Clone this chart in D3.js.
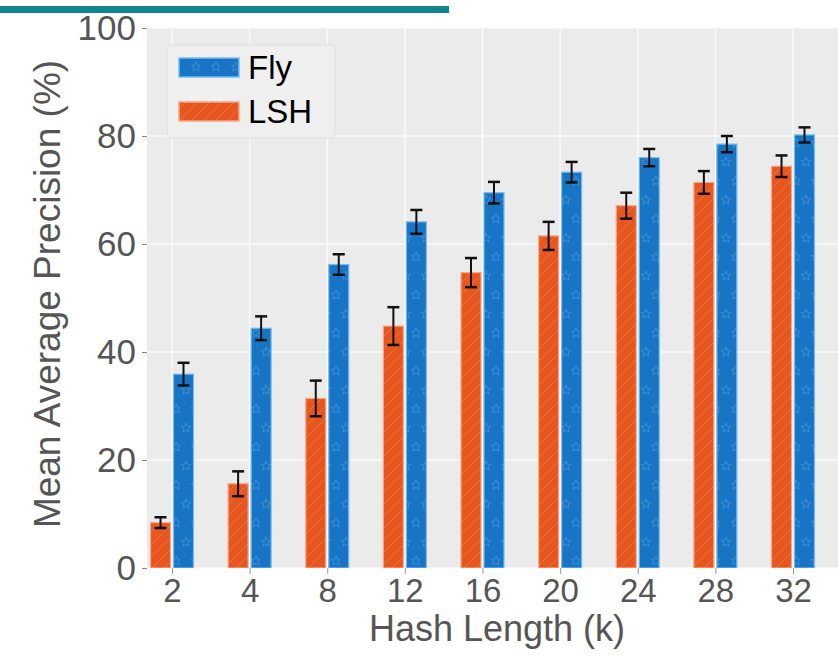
<!DOCTYPE html>
<html>
<head>
<meta charset="utf-8">
<script src="https://cdn.jsdelivr.net/npm/d3@7"></script>
<style>
  html, body { margin: 0; padding: 0; background: #fff; }
  svg { display: block; font-family: "Liberation Sans", Arial, sans-serif; }
</style>
</head>
<body>
<div id="chart"></div>
<script>
// Hash length k on the x axis
const hashLengths = ["2", "4", "8", "12", "16", "20", "24", "28", "32"];
const seriesNames = ["LSH", "Fly"];

// Mean average precision (%)
const lshValues = [8.4, 15.6, 31.4, 44.8, 54.7, 61.5, 67.1, 71.4, 74.4];
const lshErrors = [1.0, 2.3, 3.3, 3.5, 2.7, 2.6, 2.4, 2.1, 2.0];
const flyValues = [35.9, 44.4, 56.2, 64.1, 69.5, 73.3, 76.0, 78.5, 80.2];
const flyErrors = [2.1, 2.2, 1.9, 2.2, 2.0, 1.9, 1.6, 1.5, 1.4];

const yTicks = [0, 20, 40, 60, 80, 100];

const width = 838;
const height = 656;
const plot = { left: 147, top: 28, right: 860, bottom: 568 };

const svg = d3.select("#chart")
  .append("svg")
  .attr("width", width)
  .attr("height", height)
  .attr("viewBox", [0, 0, width, height]);

// teal strip at the top of the page crop
svg.append("rect")
  .attr("x", 0).attr("y", 6)
  .attr("width", 449).attr("height", 7)
  .attr("fill", "#10858a");

const defs = svg.append("defs");

// orange "/" hatch
const hatch = defs.append("pattern")
  .attr("id", "hatch-lsh")
  .attr("patternUnits", "userSpaceOnUse")
  .attr("width", 12).attr("height", 12);
hatch.append("rect").attr("width", 12).attr("height", 12).attr("fill", "#e8561f");
hatch.append("path")
  .attr("d", "M0,12L12,0M-3,3L3,-3M9,15L15,9")
  .attr("stroke", "#f39a72")
  .attr("stroke-opacity", 0.45)
  .attr("stroke-width", 1);

// blue star hatch
const starPath = (cx, cy, r) => {
  const pts = d3.range(10).map((i) => {
    const a = -Math.PI / 2 + (i * Math.PI) / 5;
    const rr = i % 2 === 0 ? r : r * 0.45;
    return [cx + rr * Math.cos(a), cy + rr * Math.sin(a)];
  });
  return "M" + pts.map((p) => p.join(",")).join("L") + "Z";
};
const stars = defs.append("pattern")
  .attr("id", "hatch-fly")
  .attr("patternUnits", "userSpaceOnUse")
  .attr("width", 20).attr("height", 38);
stars.append("rect").attr("width", 20).attr("height", 38).attr("fill", "#1874c4");
stars.append("path")
  .attr("d", starPath(6, 10, 5) + starPath(16, 29, 5))
  .attr("fill", "none")
  .attr("stroke", "#5aa6e6")
  .attr("stroke-opacity", 0.5)
  .attr("stroke-width", 1);

const clip = defs.append("clipPath").attr("id", "plot-clip");
clip.append("rect")
  .attr("x", plot.left).attr("y", plot.top - 10)
  .attr("width", plot.right - plot.left).attr("height", plot.bottom - plot.top + 10);

const x = d3.scalePoint().domain(hashLengths).range([172, 793]);
const xSub = d3.scaleBand().domain(seriesNames).range([-21.5, 21.5]).paddingInner(0.13);
const y = d3.scaleLinear().domain([0, 100]).range([plot.bottom, plot.top]);

// background
svg.append("rect")
  .attr("x", plot.left).attr("y", plot.top)
  .attr("width", plot.right - plot.left).attr("height", plot.bottom - plot.top)
  .attr("fill", "#ebebeb");

// grid
const grid = svg.append("g").attr("stroke", "#fafafa").attr("stroke-width", 1.5);
grid.selectAll(".gy").data(yTicks).join("line")
  .attr("x1", plot.left).attr("x2", plot.right)
  .attr("y1", (d) => y(d)).attr("y2", (d) => y(d));
grid.selectAll(".gx").data(hashLengths).join("line")
  .attr("x1", (d) => x(d)).attr("x2", (d) => x(d))
  .attr("y1", plot.top).attr("y2", plot.bottom);

const series = [
  { name: "LSH", values: lshValues, errors: lshErrors, fill: "url(#hatch-lsh)", edge: "#f6a883" },
  { name: "Fly", values: flyValues, errors: flyErrors, fill: "url(#hatch-fly)", edge: "#74bdf0" },
];

const bars = svg.append("g").attr("clip-path", "url(#plot-clip)");
series.forEach((s) => {
  const rows = hashLengths.map((k, i) => ({ k, v: s.values[i], e: s.errors[i] }));
  bars.selectAll(null).data(rows).join("rect")
    .attr("x", (d) => x(d.k) + xSub(s.name))
    .attr("y", (d) => y(d.v))
    .attr("width", xSub.bandwidth())
    .attr("height", (d) => y(0) - y(d.v))
    .attr("fill", s.fill)
    .attr("stroke", s.edge)
    .attr("stroke-width", 1.2);

  const err = bars.append("g").attr("stroke", "#111");
  const cx = (d) => x(d.k) + xSub(s.name) + xSub.bandwidth() / 2;
  err.selectAll(null).data(rows).join("line")
    .attr("x1", cx).attr("x2", cx)
    .attr("y1", (d) => y(d.v + d.e)).attr("y2", (d) => y(d.v - d.e))
    .attr("stroke-width", 2);
  [1, -1].forEach((sign) => {
    err.selectAll(null).data(rows).join("line")
      .attr("x1", (d) => cx(d) - 6).attr("x2", (d) => cx(d) + 6)
      .attr("y1", (d) => y(d.v + sign * d.e)).attr("y2", (d) => y(d.v + sign * d.e))
      .attr("stroke-width", 2.5);
  });
});

// axes
const yAxis = svg.append("g")
  .attr("transform", `translate(${plot.left},0)`)
  .call(d3.axisLeft(y).tickValues(yTicks).tickSize(5).tickPadding(6));
yAxis.select(".domain").remove();
yAxis.selectAll("line").attr("stroke", "#888");
yAxis.selectAll("text").attr("fill", "#555").attr("font-size", 35)
  .attr("font-family", "Liberation Sans, Arial, sans-serif");

const xAxis = svg.append("g")
  .attr("transform", `translate(0,${plot.bottom})`)
  .call(d3.axisBottom(x).tickSize(6).tickPadding(5));
xAxis.select(".domain").remove();
xAxis.selectAll("line").attr("stroke", "#999");
xAxis.selectAll("text").attr("fill", "#555").attr("font-size", 33)
  .attr("font-family", "Liberation Sans, Arial, sans-serif");

svg.append("text")
  .attr("x", 497).attr("y", 641)
  .attr("text-anchor", "middle")
  .attr("fill", "#555")
  .attr("font-size", 36)
  .text("Hash Length (k)");

svg.append("text")
  .attr("transform", "translate(60,294) rotate(-90)")
  .attr("text-anchor", "middle")
  .attr("fill", "#555")
  .attr("font-size", 37)
  .text("Mean Average Precision (%)");

// legend
const legend = svg.append("g");
legend.append("rect")
  .attr("x", 167).attr("y", 45).attr("width", 168).attr("height", 93)
  .attr("rx", 4)
  .attr("fill", "#efefef")
  .attr("stroke", "#dedede");
const legendItems = [series[1], series[0]];
legend.selectAll(null).data(legendItems).join("rect")
  .attr("x", 179)
  .attr("y", (d, i) => 58 + i * 44)
  .attr("width", 60).attr("height", 19)
  .attr("fill", (d) => d.fill)
  .attr("stroke", (d) => d.edge)
  .attr("stroke-width", 1.5);
legend.selectAll(null).data(legendItems).join("text")
  .attr("x", 248)
  .attr("y", (d, i) => 79 + i * 44)
  .attr("font-size", 33)
  .attr("fill", "#000")
  .text((d) => d.name);
</script>
</body>
</html>
